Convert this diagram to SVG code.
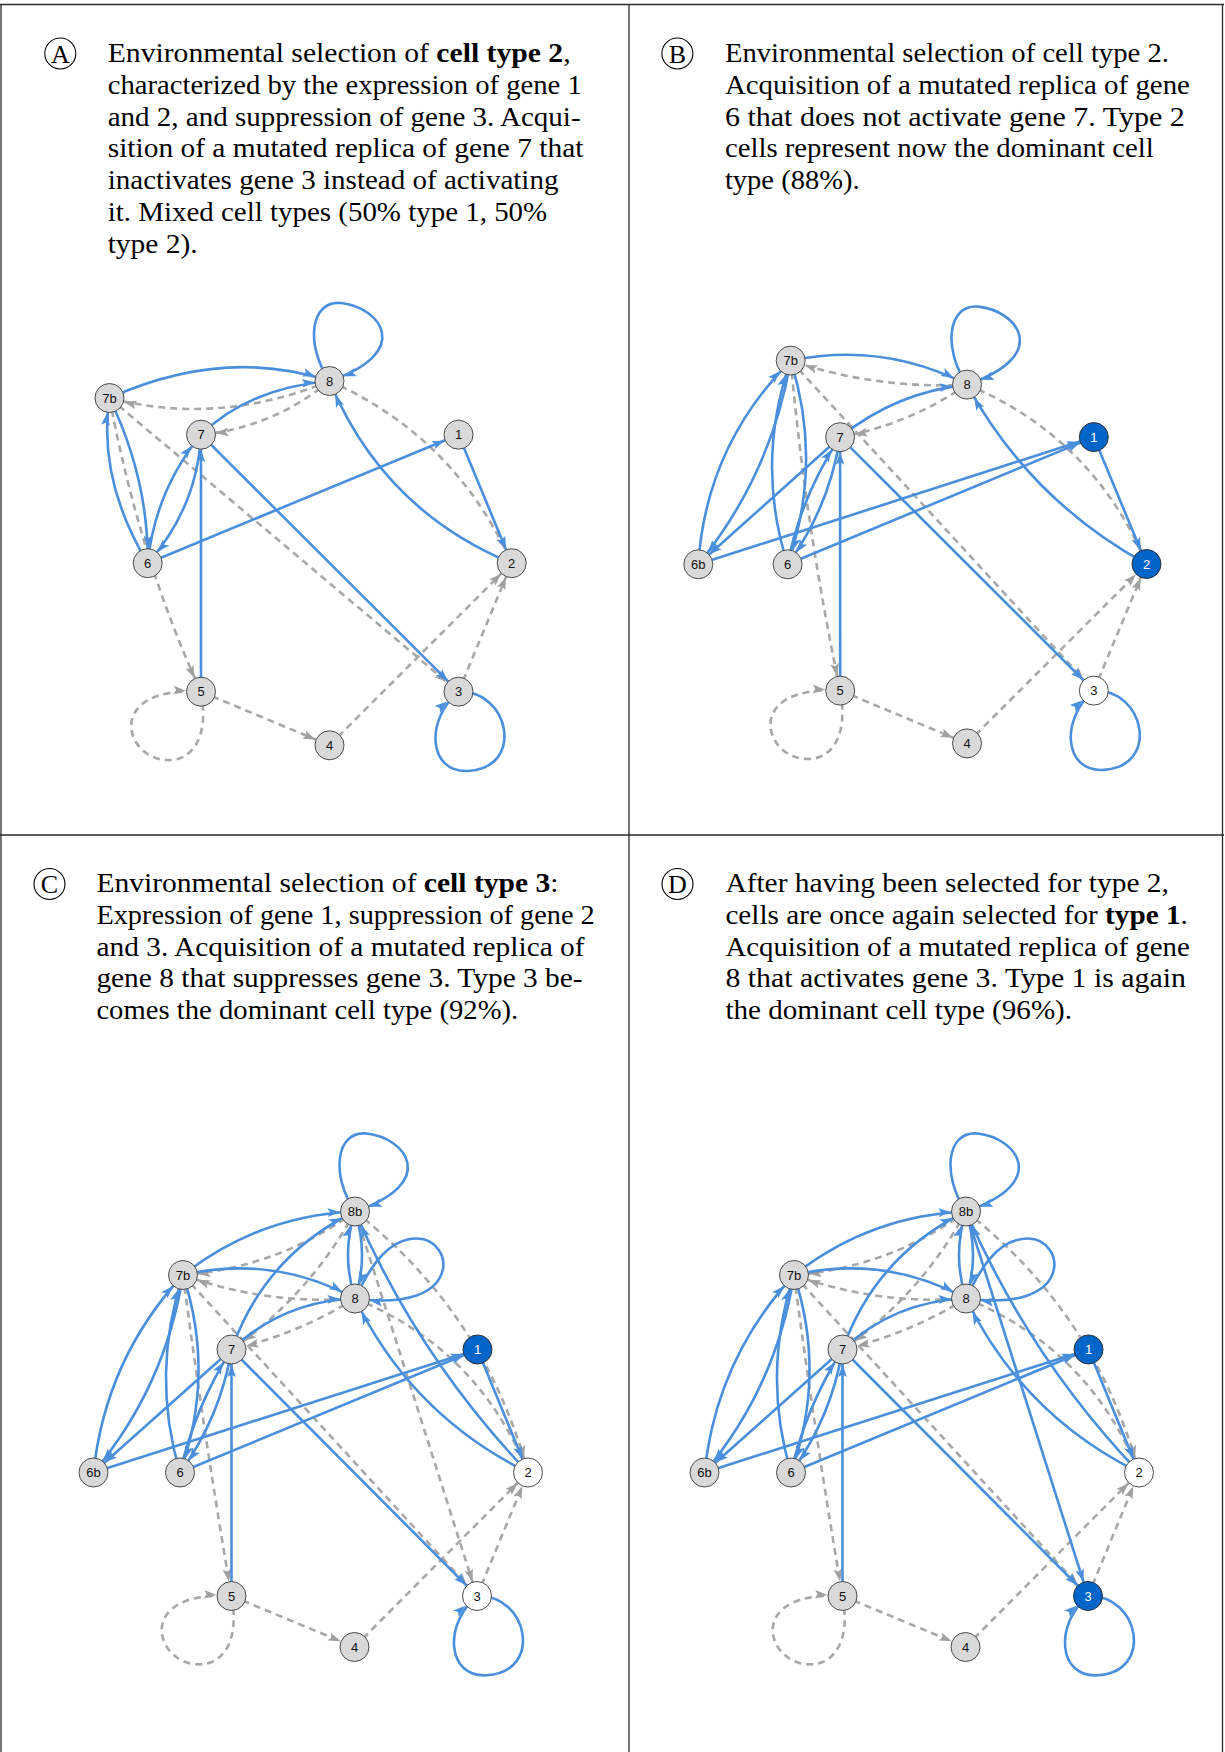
<svg xmlns="http://www.w3.org/2000/svg" width="1225" height="1752" viewBox="0 0 1225 1752">
<style>
.frame{stroke:#2a2a2a;stroke-width:1.3;fill:none}
.t{font-family:"Liberation Serif","Times New Roman",serif;font-size:27px;fill:#000}
.t tspan.bf{font-weight:bold}
.lab circle{fill:none;stroke:#000;stroke-width:1.1}
.lab text{font-family:"Liberation Serif","Times New Roman",serif;font-size:26px;text-anchor:middle;fill:#000}
.b{fill:none;stroke:#4a8fdb;stroke-width:2.6;marker-end:url(#ab)}
.g{fill:none;stroke:#a8a8a8;stroke-width:2.6;stroke-dasharray:7 5;marker-end:url(#ag)}
.n circle{fill:#d9d9d9;stroke:#4a4a4a;stroke-width:1}
.n text{font-family:"Liberation Sans",Arial,sans-serif;font-size:13px;text-anchor:middle;fill:#111}
.n.h circle{fill:#0064c8;stroke:#333}
.n.h text{fill:#fff}
.n.w circle{fill:#fff}
</style>
<defs>
<marker id="ab" markerUnits="userSpaceOnUse" markerWidth="13" markerHeight="10" refX="27.5" refY="5" orient="auto" overflow="visible"><path d="M0,0.6 L12.5,5 L0,9.4 L2.6,5 Z" fill="#4a8fdb"/></marker>
<marker id="ag" markerUnits="userSpaceOnUse" markerWidth="13" markerHeight="10" refX="27.5" refY="5" orient="auto" overflow="visible"><path d="M0,0.6 L12.5,5 L0,9.4 L2.6,5 Z" fill="#a0a0a0"/></marker>
</defs>
<rect width="1225" height="1752" fill="#fff"/>
<g id="frame" class="frame">
<line x1="0" y1="4.5" x2="1224" y2="4.5"/>
<line x1="1" y1="4.5" x2="1" y2="1752"/>
<line x1="629" y1="4.5" x2="629" y2="1752"/>
<line x1="1222.5" y1="4.5" x2="1222.5" y2="1752"/>
<line x1="0" y1="835" x2="1224" y2="835"/>
</g>

<g id="A-caption">
<g class="lab"><circle cx="60.3" cy="53.5" r="15.5"/><text x="60.3" y="62.5">A</text></g>
<text class="t" x="107.7" y="62.3" textLength="462.9" lengthAdjust="spacingAndGlyphs">Environmental selection of <tspan class="bf">cell type 2</tspan>,</text>
<text class="t" x="107.7" y="94" textLength="474.1" lengthAdjust="spacingAndGlyphs">characterized by the expression of gene 1</text>
<text class="t" x="107.7" y="125.7" textLength="472.9" lengthAdjust="spacingAndGlyphs">and 2, and suppression of gene 3. Acqui-</text>
<text class="t" x="107.7" y="157.4" textLength="475.7" lengthAdjust="spacingAndGlyphs">sition of a mutated replica of gene 7 that</text>
<text class="t" x="107.7" y="189.1" textLength="450.8" lengthAdjust="spacingAndGlyphs">inactivates gene 3 instead of activating</text>
<text class="t" x="107.7" y="220.8" textLength="439.5" lengthAdjust="spacingAndGlyphs">it. Mixed cell types (50% type 1, 50%</text>
<text class="t" x="107.7" y="252.5" textLength="90" lengthAdjust="spacingAndGlyphs">type 2).</text>
</g>

<g id="B-caption">
<g class="lab"><circle cx="677.4" cy="53.5" r="15.5"/><text x="677.4" y="62.5">B</text></g>
<text class="t" x="724.9" y="62.3" textLength="444" lengthAdjust="spacingAndGlyphs">Environmental selection of cell type 2.</text>
<text class="t" x="724.9" y="94" textLength="465" lengthAdjust="spacingAndGlyphs">Acquisition of a mutated replica of gene</text>
<text class="t" x="724.9" y="125.7" textLength="459.9" lengthAdjust="spacingAndGlyphs">6 that does not activate gene 7. Type 2</text>
<text class="t" x="724.9" y="157.4" textLength="428.8" lengthAdjust="spacingAndGlyphs">cells represent now the dominant cell</text>
<text class="t" x="724.9" y="189.1" textLength="134.7" lengthAdjust="spacingAndGlyphs">type (88%).</text>
</g>

<g id="C-caption">
<g class="lab"><circle cx="49.5" cy="884" r="15.5"/><text x="49.5" y="893">C</text></g>
<text class="t" x="96.4" y="892.3" textLength="462.1" lengthAdjust="spacingAndGlyphs">Environmental selection of <tspan class="bf">cell type 3</tspan>:</text>
<text class="t" x="96.4" y="924" textLength="498.3" lengthAdjust="spacingAndGlyphs">Expression of gene 1, suppression of gene 2</text>
<text class="t" x="96.4" y="955.7" textLength="488.2" lengthAdjust="spacingAndGlyphs">and 3. Acquisition of a mutated replica of</text>
<text class="t" x="96.4" y="987.4" textLength="486.2" lengthAdjust="spacingAndGlyphs">gene 8 that suppresses gene 3. Type 3 be-</text>
<text class="t" x="96.4" y="1019.1" textLength="421.9" lengthAdjust="spacingAndGlyphs">comes the dominant cell type (92%).</text>
</g>

<g id="D-caption">
<g class="lab"><circle cx="677.5" cy="884" r="15.5"/><text x="677.5" y="893">D</text></g>
<text class="t" x="725.4" y="892.3" textLength="443.5" lengthAdjust="spacingAndGlyphs">After having been selected for type 2,</text>
<text class="t" x="725.4" y="924" textLength="462.5" lengthAdjust="spacingAndGlyphs">cells are once again selected for <tspan class="bf">type 1</tspan>.</text>
<text class="t" x="725.4" y="955.7" textLength="464.4" lengthAdjust="spacingAndGlyphs">Acquisition of a mutated replica of gene</text>
<text class="t" x="725.4" y="987.4" textLength="460.6" lengthAdjust="spacingAndGlyphs">8 that activates gene 3. Type 1 is again</text>
<text class="t" x="725.4" y="1019.1" textLength="346.7" lengthAdjust="spacingAndGlyphs">the dominant cell type (96%).</text>
</g>

<g id="A-connectors">
<path class="g" d="M329.5,381 Q218.5,426.5 109.5,398"/>
<path class="g" d="M329.5,381 Q273.4,427.4 201,434.7"/>
<path class="g" d="M329.5,381 Q455.5,437.2 511.7,563.2"/>
<path class="g" d="M109.5,398 Q140,560 201,691.7"/>
<path class="g" d="M109.5,398 L458.5,691.7"/>
<path class="g" d="M201,691.7 c9,48.3 -11,70.3 -35,68.3 c-42,-2 -62,-74 35,-68.3"/>
<path class="g" d="M201,691.7 L329.5,745.3"/>
<path class="g" d="M329.5,745.3 L511.7,563.2"/>
<path class="g" d="M458.5,691.7 L511.7,563.2"/>
<path class="b" d="M329.5,381 c-24.5,-36 -19.5,-81 11.5,-78 c39,4 74,49 -11.5,78"/>
<path class="b" d="M109.5,398 Q224.5,346.5 329.5,381"/>
<path class="b" d="M201,434.7 Q249,388 329.5,381"/>
<path class="b" d="M511.7,563.2 Q383,510 329.5,381"/>
<path class="b" d="M458.5,434.7 L511.7,563.2"/>
<path class="b" d="M147.7,563.2 L458.5,434.7"/>
<path class="b" d="M147.7,563.2 Q97.4,479.4 109.5,398"/>
<path class="b" d="M109.5,398 Q148.6,479.4 147.7,563.2"/>
<path class="b" d="M147.7,563.2 Q155,491 201,434.7"/>
<path class="b" d="M201,434.7 Q197,508 147.7,563.2"/>
<path class="b" d="M201,691.7 L201,434.7"/>
<path class="b" d="M201,434.7 L458.5,691.7"/>
<path class="b" d="M458.5,691.7 c51.5,-1.7 66.5,76.3 9.5,79.3 c-40,2 -43,-51 -9.5,-79.3"/>
</g>
<g id="A-8" class="n"><circle cx="329.5" cy="381" r="14.5"/><text x="329.5" y="385.5">8</text></g>
<g id="A-7b" class="n"><circle cx="109.5" cy="398" r="14.5"/><text x="109.5" y="402.5">7b</text></g>
<g id="A-7" class="n"><circle cx="201" cy="434.7" r="14.5"/><text x="201" y="439.2">7</text></g>
<g id="A-1" class="n"><circle cx="458.5" cy="434.7" r="14.5"/><text x="458.5" y="439.2">1</text></g>
<g id="A-6" class="n"><circle cx="147.7" cy="563.2" r="14.5"/><text x="147.7" y="567.7">6</text></g>
<g id="A-2" class="n"><circle cx="511.7" cy="563.2" r="14.5"/><text x="511.7" y="567.7">2</text></g>
<g id="A-5" class="n"><circle cx="201" cy="691.7" r="14.5"/><text x="201" y="696.2">5</text></g>
<g id="A-3" class="n"><circle cx="458.5" cy="691.7" r="14.5"/><text x="458.5" y="696.2">3</text></g>
<g id="A-4" class="n"><circle cx="329.5" cy="745.3" r="14.5"/><text x="329.5" y="749.8">4</text></g>

<g id="B-connectors">
<path class="g" d="M967,384.6 Q876.6,389.4 790.7,360.6"/>
<path class="g" d="M967,384.6 Q909.1,424.2 840.1,437.2"/>
<path class="g" d="M967,384.6 Q1093.5,437.5 1146.5,564"/>
<path class="g" d="M790.7,360.6 Q805.5,525.6 840.2,690.6"/>
<path class="g" d="M790.7,360.6 L1093.8,690.6"/>
<path class="g" d="M840.2,690.6 c9,48.3 -11,70.3 -35,68.3 c-42,-2 -62,-74 35,-68.3"/>
<path class="g" d="M840.2,690.6 L967,743.4"/>
<path class="g" d="M967,743.4 L1146.5,564"/>
<path class="g" d="M1093.8,690.6 L1146.5,564"/>
<path class="b" d="M967,384.6 c-24.5,-36 -19.5,-81 11.5,-78 c39,4 74,49 -11.5,78"/>
<path class="b" d="M790.7,360.6 Q883.1,341.5 967,384.6"/>
<path class="b" d="M840.1,437.2 Q895.8,392.2 967,384.6"/>
<path class="b" d="M1146.5,564 Q1030,500 967,384.6"/>
<path class="b" d="M1093.8,437.1 L1146.5,564"/>
<path class="b" d="M698.3,564.3 L1093.8,437.1"/>
<path class="b" d="M787.6,564.3 L1093.8,437.1"/>
<path class="b" d="M698.3,564.3 Q706,446 790.7,360.6"/>
<path class="b" d="M790.7,360.6 Q771.3,474.6 698.3,564.3"/>
<path class="b" d="M840.1,437.2 L698.3,564.3"/>
<path class="b" d="M787.6,564.3 Q755,462.5 790.7,360.6"/>
<path class="b" d="M790.7,360.6 Q823,462.5 787.6,564.3"/>
<path class="b" d="M787.6,564.3 Q801.1,495.5 840.1,437.2"/>
<path class="b" d="M840.1,437.2 Q829.4,507.2 787.6,564.3"/>
<path class="b" d="M840.2,690.6 L840.1,437.2"/>
<path class="b" d="M840.1,437.2 L1093.8,690.6"/>
<path class="b" d="M1093.8,690.6 c51.5,-1.7 66.5,76.3 9.5,79.3 c-40,2 -43,-51 -9.5,-79.3"/>
</g>
<g id="B-7b" class="n"><circle cx="790.7" cy="360.6" r="14.5"/><text x="790.7" y="365.1">7b</text></g>
<g id="B-8" class="n"><circle cx="967" cy="384.6" r="14.5"/><text x="967" y="389.1">8</text></g>
<g id="B-7" class="n"><circle cx="840.1" cy="437.2" r="14.5"/><text x="840.1" y="441.7">7</text></g>
<g id="B-1" class="n h"><circle cx="1093.8" cy="437.1" r="14.5"/><text x="1093.8" y="441.6">1</text></g>
<g id="B-6b" class="n"><circle cx="698.3" cy="564.3" r="14.5"/><text x="698.3" y="568.8">6b</text></g>
<g id="B-6" class="n"><circle cx="787.6" cy="564.3" r="14.5"/><text x="787.6" y="568.8">6</text></g>
<g id="B-2" class="n h"><circle cx="1146.5" cy="564" r="14.5"/><text x="1146.5" y="568.5">2</text></g>
<g id="B-5" class="n"><circle cx="840.2" cy="690.6" r="14.5"/><text x="840.2" y="695.1">5</text></g>
<g id="B-3" class="n w"><circle cx="1093.8" cy="690.6" r="14.5"/><text x="1093.8" y="695.1">3</text></g>
<g id="B-4" class="n"><circle cx="967" cy="743.4" r="14.5"/><text x="967" y="747.9">4</text></g>

<g id="C-connectors">
<path class="g" d="M355,1211.5 Q278,1267.6 183,1275"/>
<path class="g" d="M355,1211.5 Q309.6,1295.2 231.5,1349.5"/>
<path class="g" d="M355,1298.5 Q266.5,1305.2 183,1275"/>
<path class="g" d="M355,1298.5 Q297.5,1334.2 231.5,1349.5"/>
<path class="g" d="M355,1211.5 Q484.8,1313.3 528,1472.5"/>
<path class="g" d="M355,1298.5 Q478.4,1348.8 528,1472.5"/>
<path class="g" d="M355,1211.5 L477,1596"/>
<path class="g" d="M183,1275 Q204,1435.5 231.5,1596"/>
<path class="g" d="M183,1275 L477,1596"/>
<path class="g" d="M231.5,1596 c9,48.3 -11,70.3 -35,68.3 c-42,-2 -62,-74 35,-68.3"/>
<path class="g" d="M231.5,1596 L354.5,1647"/>
<path class="g" d="M354.5,1647 L528,1472.5"/>
<path class="g" d="M477,1596 L528,1472.5"/>
<path class="b" d="M355,1211.5 c-24.5,-36 -19.5,-81 11.5,-78 c39,4 74,49 -11.5,78"/>
<path class="b" d="M183,1275 Q258.8,1215.5 355,1211.5"/>
<path class="b" d="M183,1275 Q273.4,1254.2 355,1298.5"/>
<path class="b" d="M231.5,1349.5 Q265,1255 355,1211.5"/>
<path class="b" d="M231.5,1349.5 Q283.7,1300.9 355,1298.5"/>
<path class="b" d="M355,1298.5 Q341,1255 355,1211.5"/>
<path class="b" d="M355,1211.5 Q369,1255 355,1298.5"/>
<path class="b" d="M355,1298.5 c12,-25 30,-60 62,-60 c38,0 48,75 -62,60"/>
<path class="b" d="M528,1472.5 Q418.2,1357.5 355,1211.5"/>
<path class="b" d="M528,1472.5 Q411.7,1415.1 355,1298.5"/>
<path class="b" d="M477.5,1349.5 L528,1472.5"/>
<path class="b" d="M93.5,1472.5 L477.5,1349.5"/>
<path class="b" d="M180,1472.5 L477.5,1349.5"/>
<path class="b" d="M93.5,1472.5 Q105.5,1358.9 183,1275"/>
<path class="b" d="M183,1275 Q165.6,1386.1 93.5,1472.5"/>
<path class="b" d="M231.5,1349.5 L93.5,1472.5"/>
<path class="b" d="M180,1472.5 Q150.5,1373.75 183,1275"/>
<path class="b" d="M183,1275 Q215.5,1373.75 180,1472.5"/>
<path class="b" d="M180,1472.5 Q195.1,1406.6 231.5,1349.5"/>
<path class="b" d="M231.5,1349.5 Q220.5,1417.2 180,1472.5"/>
<path class="b" d="M231.5,1596 L231.5,1349.5"/>
<path class="b" d="M231.5,1349.5 L477,1596"/>
<path class="b" d="M477,1596 c51.5,-1.7 66.5,76.3 9.5,79.3 c-40,2 -43,-51 -9.5,-79.3"/>
</g>
<g id="C-8b" class="n"><circle cx="355" cy="1211.5" r="14.5"/><text x="355" y="1216">8b</text></g>
<g id="C-7b" class="n"><circle cx="183" cy="1275" r="14.5"/><text x="183" y="1279.5">7b</text></g>
<g id="C-8" class="n"><circle cx="355" cy="1298.5" r="14.5"/><text x="355" y="1303">8</text></g>
<g id="C-7" class="n"><circle cx="231.5" cy="1349.5" r="14.5"/><text x="231.5" y="1354">7</text></g>
<g id="C-1" class="n h"><circle cx="477.5" cy="1349.5" r="14.5"/><text x="477.5" y="1354">1</text></g>
<g id="C-6b" class="n"><circle cx="93.5" cy="1472.5" r="14.5"/><text x="93.5" y="1477">6b</text></g>
<g id="C-6" class="n"><circle cx="180" cy="1472.5" r="14.5"/><text x="180" y="1477">6</text></g>
<g id="C-2" class="n w"><circle cx="528" cy="1472.5" r="14.5"/><text x="528" y="1477">2</text></g>
<g id="C-5" class="n"><circle cx="231.5" cy="1596" r="14.5"/><text x="231.5" y="1600.5">5</text></g>
<g id="C-3" class="n w"><circle cx="477" cy="1596" r="14.5"/><text x="477" y="1600.5">3</text></g>
<g id="C-4" class="n"><circle cx="354.5" cy="1647" r="14.5"/><text x="354.5" y="1651.5">4</text></g>

<g id="D-graph" transform="translate(611,0)">
<g id="D-connectors">
<path class="g" d="M355,1211.5 Q278,1267.6 183,1275"/>
<path class="g" d="M355,1211.5 Q309.6,1295.2 231.5,1349.5"/>
<path class="g" d="M355,1298.5 Q266.5,1305.2 183,1275"/>
<path class="g" d="M355,1298.5 Q297.5,1334.2 231.5,1349.5"/>
<path class="g" d="M355,1211.5 Q484.8,1313.3 528,1472.5"/>
<path class="g" d="M355,1298.5 Q478.4,1348.8 528,1472.5"/>
<path class="g" d="M183,1275 Q204,1435.5 231.5,1596"/>
<path class="g" d="M183,1275 L477,1596"/>
<path class="g" d="M231.5,1596 c9,48.3 -11,70.3 -35,68.3 c-42,-2 -62,-74 35,-68.3"/>
<path class="g" d="M231.5,1596 L354.5,1647"/>
<path class="g" d="M354.5,1647 L528,1472.5"/>
<path class="g" d="M477,1596 L528,1472.5"/>
<path class="b" d="M355,1211.5 L477,1596"/>
<path class="b" d="M355,1211.5 c-24.5,-36 -19.5,-81 11.5,-78 c39,4 74,49 -11.5,78"/>
<path class="b" d="M183,1275 Q258.8,1215.5 355,1211.5"/>
<path class="b" d="M183,1275 Q273.4,1254.2 355,1298.5"/>
<path class="b" d="M231.5,1349.5 Q265,1255 355,1211.5"/>
<path class="b" d="M231.5,1349.5 Q283.7,1300.9 355,1298.5"/>
<path class="b" d="M355,1298.5 Q341,1255 355,1211.5"/>
<path class="b" d="M355,1211.5 Q369,1255 355,1298.5"/>
<path class="b" d="M355,1298.5 c12,-25 30,-60 62,-60 c38,0 48,75 -62,60"/>
<path class="b" d="M528,1472.5 Q418.2,1357.5 355,1211.5"/>
<path class="b" d="M528,1472.5 Q411.7,1415.1 355,1298.5"/>
<path class="b" d="M477.5,1349.5 L528,1472.5"/>
<path class="b" d="M93.5,1472.5 L477.5,1349.5"/>
<path class="b" d="M180,1472.5 L477.5,1349.5"/>
<path class="b" d="M93.5,1472.5 Q105.5,1358.9 183,1275"/>
<path class="b" d="M183,1275 Q165.6,1386.1 93.5,1472.5"/>
<path class="b" d="M231.5,1349.5 L93.5,1472.5"/>
<path class="b" d="M180,1472.5 Q150.5,1373.75 183,1275"/>
<path class="b" d="M183,1275 Q215.5,1373.75 180,1472.5"/>
<path class="b" d="M180,1472.5 Q195.1,1406.6 231.5,1349.5"/>
<path class="b" d="M231.5,1349.5 Q220.5,1417.2 180,1472.5"/>
<path class="b" d="M231.5,1596 L231.5,1349.5"/>
<path class="b" d="M231.5,1349.5 L477,1596"/>
<path class="b" d="M477,1596 c51.5,-1.7 66.5,76.3 9.5,79.3 c-40,2 -43,-51 -9.5,-79.3"/>
</g>
<g id="D-8b" class="n"><circle cx="355" cy="1211.5" r="14.5"/><text x="355" y="1216">8b</text></g>
<g id="D-7b" class="n"><circle cx="183" cy="1275" r="14.5"/><text x="183" y="1279.5">7b</text></g>
<g id="D-8" class="n"><circle cx="355" cy="1298.5" r="14.5"/><text x="355" y="1303">8</text></g>
<g id="D-7" class="n"><circle cx="231.5" cy="1349.5" r="14.5"/><text x="231.5" y="1354">7</text></g>
<g id="D-1" class="n h"><circle cx="477.5" cy="1349.5" r="14.5"/><text x="477.5" y="1354">1</text></g>
<g id="D-6b" class="n"><circle cx="93.5" cy="1472.5" r="14.5"/><text x="93.5" y="1477">6b</text></g>
<g id="D-6" class="n"><circle cx="180" cy="1472.5" r="14.5"/><text x="180" y="1477">6</text></g>
<g id="D-2" class="n w"><circle cx="528" cy="1472.5" r="14.5"/><text x="528" y="1477">2</text></g>
<g id="D-5" class="n"><circle cx="231.5" cy="1596" r="14.5"/><text x="231.5" y="1600.5">5</text></g>
<g id="D-3" class="n h"><circle cx="477" cy="1596" r="14.5"/><text x="477" y="1600.5">3</text></g>
<g id="D-4" class="n"><circle cx="354.5" cy="1647" r="14.5"/><text x="354.5" y="1651.5">4</text></g>
</g>
</svg>
